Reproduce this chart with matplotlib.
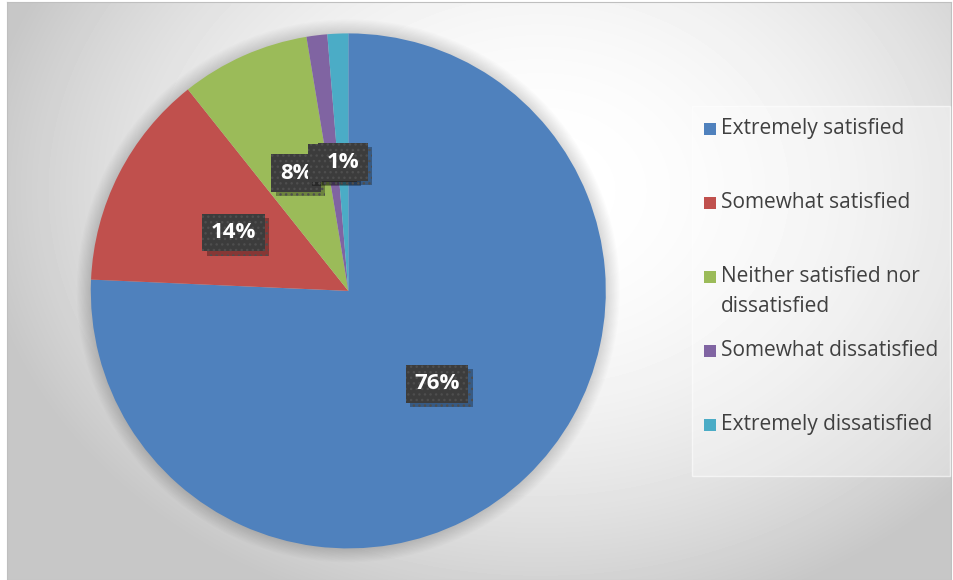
import numpy as np
import matplotlib
matplotlib.use("Agg")
import matplotlib.pyplot as plt
from matplotlib.patches import Rectangle, Circle
from matplotlib import patheffects

LABELS = [
    "Extremely satisfied",
    "Somewhat satisfied",
    "Neither satisfied nor\ndissatisfied",
    "Somewhat dissatisfied",
    "Extremely dissatisfied",
]
SHARES = [75.7, 13.6, 8.1, 1.3, 1.3]
COLORS = ["#4F81BD", "#C0504D", "#9BBB59", "#8064A2", "#4BACC6"]

W, H = 954, 580


def px_box(left, top, width, height):
    # pixel rectangle measured from the top-left -> figure fraction
    return [left / W, 1 - (top + height) / H, width / W, height / H]


def draw_background(fig):
    bg = fig.add_axes(px_box(7, 2, 944, 578), zorder=0)
    ys, xs = np.mgrid[0:578, 0:944]
    xs = xs + 7
    ys = ys + 2
    d2 = ((xs - 540) / 600) ** 2 + ((ys - 190) / 470) ** 2
    shade = np.clip(1 - 0.25 * d2, 0.78, 1.0)
    bg.imshow(shade, cmap="gray", vmin=0, vmax=1, aspect="auto",
              interpolation="bilinear")
    bg.set_xticks([])
    bg.set_yticks([])
    for s in bg.spines.values():
        s.set_color("#bfbfbf")
        s.set_linewidth(0.8)


def draw_pie(fig):
    cx, cy, r = 348.3, 290.9, 257.5
    ax = fig.add_axes(px_box(cx - r, cy - r, 2 * r, 2 * r), zorder=1)
    ax.set_facecolor("none")

    # soft halo around the pie
    n = 12
    for k in range(n, 0, -1):
        ax.add_patch(Circle((0, 0), 1 + k * 14 / r / n, fc="black",
                            alpha=0.012, lw=0, clip_on=False))

    wedges, _, pcts = ax.pie(
        SHARES,
        colors=COLORS,
        startangle=90,
        counterclock=False,
        autopct=lambda p: f"{p:.0f}%",
        pctdistance=0.5,
        wedgeprops=dict(linewidth=0),
        textprops=dict(color="white", fontsize=16, fontweight="bold"),
    )
    for t in pcts:
        t.set_bbox(dict(boxstyle="square,pad=0.38", fc="#3c3c3c",
                        ec="#4e4e4e", lw=0, hatch="..."))
        t.get_bbox_patch().set_path_effects([
            patheffects.SimplePatchShadow(offset=(3, -3),
                                          shadow_rgbFace="black", alpha=0.3),
            patheffects.Normal(),
        ])
    ax.set_xlim(-1, 1)
    ax.set_ylim(-1, 1)
    return ax


def draw_legend(fig):
    # legend panel split into equal slots, one per category
    left, top, width, height = 692, 106, 258, 370
    fig.patches.append(Rectangle((left / W, 1 - (top + height) / H),
                                 width / W, height / H,
                                 transform=fig.transFigure,
                                 fc=(1, 1, 1, 0.3), ec=(1, 1, 1, 0.6),
                                 lw=1, zorder=0.5))
    slot = height / len(LABELS)
    sq = 12
    line_gap = 30
    for i, (label, color) in enumerate(zip(LABELS, COLORS)):
        baseline = top + 28 + i * slot
        fig.patches.append(Rectangle((704 / W, 1 - (baseline + 1) / H),
                                     sq / W, sq / H,
                                     transform=fig.transFigure,
                                     fc=color, lw=0, zorder=2))
        # baseline alignment uses the last line of a wrapped label
        last = baseline + label.count("\n") * line_gap
        fig.text(721 / W, 1 - last / H, label, fontsize=15,
                 color="#404040", va="baseline", ha="left",
                 linespacing=1.55, zorder=2)


def main():
    plt.rcParams["font.family"] = ["Open Sans", "DejaVu Sans"]
    plt.rcParams["hatch.linewidth"] = 1.0
    fig = plt.figure(figsize=(W / 100, H / 100), dpi=100)
    draw_background(fig)
    draw_pie(fig)
    draw_legend(fig)
    fig.savefig("out.png", dpi=100, facecolor="white")


if __name__ == "__main__":
    main()
